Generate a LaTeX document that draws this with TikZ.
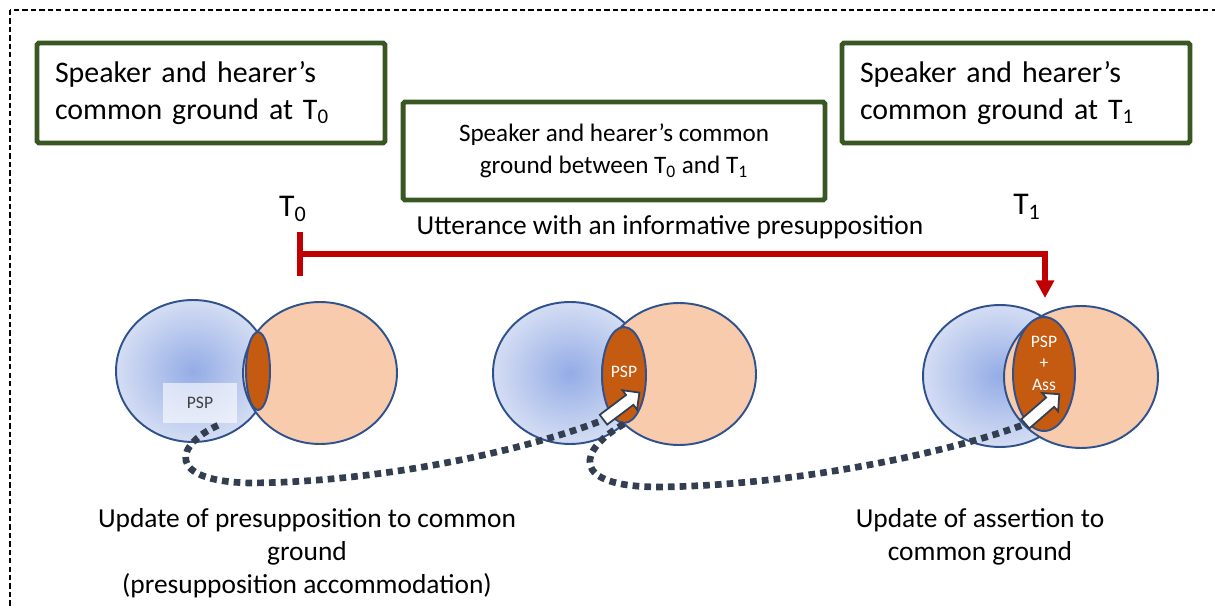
\documentclass[tikz,border=0pt]{standalone}
\usepackage{fontspec}
\setmainfont{Carlito}
\usetikzlibrary{shapes.geometric,shapes.arrows,arrows.meta,calc}

\definecolor{cgGreen}{RGB}{56,87,35}
\definecolor{uttRed}{RGB}{192,0,0}
\definecolor{setBlue}{RGB}{47,82,143}
\definecolor{setBlueIn}{RGB}{148,172,230}
\definecolor{setBlueOut}{RGB}{212,221,243}
\definecolor{setPeach}{RGB}{248,203,173}
\definecolor{setRust}{RGB}{197,90,17}
\definecolor{pathSlate}{RGB}{51,63,80}

\begin{document}
\begin{tikzpicture}[x=0.02cm, y=-0.02cm,
                    cgbox/.style={draw=cgGreen, line width=2.8pt, rounded corners=1pt},
                    leftset/.style={ellipse, draw=setBlue, line width=1.1pt, inner color=setBlueIn, outer color=setBlueOut, minimum width=3.08cm, minimum height=2.84cm},
                    rightset/.style={ellipse, draw=setBlue, line width=1.1pt, fill=setPeach, minimum width=3.08cm, minimum height=2.84cm},
                    overlap/.style={ellipse, draw=setBlue, line width=1.1pt, fill=setRust, inner sep=0pt},
                    psptext/.style={text=white, align=center, font=\fontsize{10}{12.2}\selectfont},
                    blockarr/.style={single arrow, draw=pathSlate, line width=1pt, fill=white, inner sep=0.105cm, single arrow head extend=0.12cm, minimum height=0.9cm},
                    update/.style={draw=pathSlate, line width=3.8pt, dash pattern=on 3.8pt off 2.9pt},
                    timelabel/.style={font=\fontsize{18}{22}\selectfont},
                    note/.style={align=center, font=\fontsize{15.6}{18.8}\selectfont}]

                    \useasboundingbox (0,0) rectangle (1215,608);
                    \clip (0,0) rectangle (1215,608);
                    \draw[line width=0.8pt, dash pattern=on 3pt off 1.8pt] (10,10) rectangle (1240,640); % outer frame

                    % Common ground boxes
                    \node[cgbox, align=left, text width=6.24cm, inner xsep=0.36cm, minimum height=2cm, font=\fontsize{17}{21}\selectfont] (cgt0) at (211,93) {Speaker and hearer's\\common ground at T\textsubscript{0}};
                    \node[cgbox, align=left, text width=6.24cm, inner xsep=0.36cm, minimum height=2cm, font=\fontsize{17}{21}\selectfont] (cgt1) at (1016,93) {Speaker and hearer's\\common ground at T\textsubscript{1}};
                    \node[cgbox, align=center, minimum width=8.44cm, minimum height=1.96cm, font=\fontsize{14.3}{18.2}\selectfont] (cgmid) at (614,151) {Speaker and hearer's common\\ground between T\textsubscript{0} and T\textsubscript{1}};

                    % Time line
                    \node[timelabel] (t0lab) at (293,209) {T\textsubscript{0}};
                    \node[timelabel] (t1lab) at (1027,207) {T\textsubscript{1}};
                    \node[note] (utt) at (670,227) {Utterance with an informative presupposition};
                    \coordinate (t0) at (297,254);
                    \coordinate (t1) at (1045,298);
                    \draw[uttRed, line width=3.4pt, {Bar[width=25pt]}-{Triangle[width=10pt,length=10pt]}] (t0) -| (t1);

                    % Venn diagrams
                    \node[leftset] (left1) at (193,371) {};
                    \node[rightset] (right1) at (320,373) {};
                    \node[overlap, minimum width=0.48cm, minimum height=1.56cm] (lens1) at (258,371) {};
                    \node[fill=white, fill opacity=0.6, text opacity=1, text=black!75, minimum width=1.48cm, minimum height=0.8cm, font=\fontsize{10}{12}\selectfont] (psp1) at (200,403) {PSP};

                    \node[leftset] (left2) at (570,373) {};
                    \node[rightset] (right2) at (679,374) {};
                    \node[overlap, minimum width=0.88cm, minimum height=1.92cm] (lens2) at (624,375) {};
                    \node[psptext] (psp2) at (624,372) {PSP};
                    \node[blockarr, rotate=37] (arr2) at (619,408) {};

                    \node[leftset] (left3) at (1000,376) {};
                    \node[rightset] (right3) at (1081,377) {};
                    \node[overlap, minimum width=1.24cm, minimum height=2.28cm] (lens3) at (1044,374) {};
                    \node[psptext] (psp3) at (1044,363) {PSP\\+\\Ass};
                    \node[blockarr, rotate=41] (arr3) at (1040,411) {};

                    % Update paths
                    \draw[update] ($(psp1.south)+(18,2)$) .. controls (175,445) and (165,481) .. (250,483) .. controls (380,482) and (520,452) .. (arr2.tail);
                    \draw[update] (lens2.south) .. controls (578,450) and (568,487) .. (660,487) .. controls (800,485) and (950,452) .. (arr3.tail);

                    \node[note] (accnote) at (307,553) {Update of presupposition to common\\ground\\(presupposition accommodation)};
                    \node[note] (assnote) at (980,537) {Update of assertion to\\common ground};
                \end{tikzpicture}
\end{document}
